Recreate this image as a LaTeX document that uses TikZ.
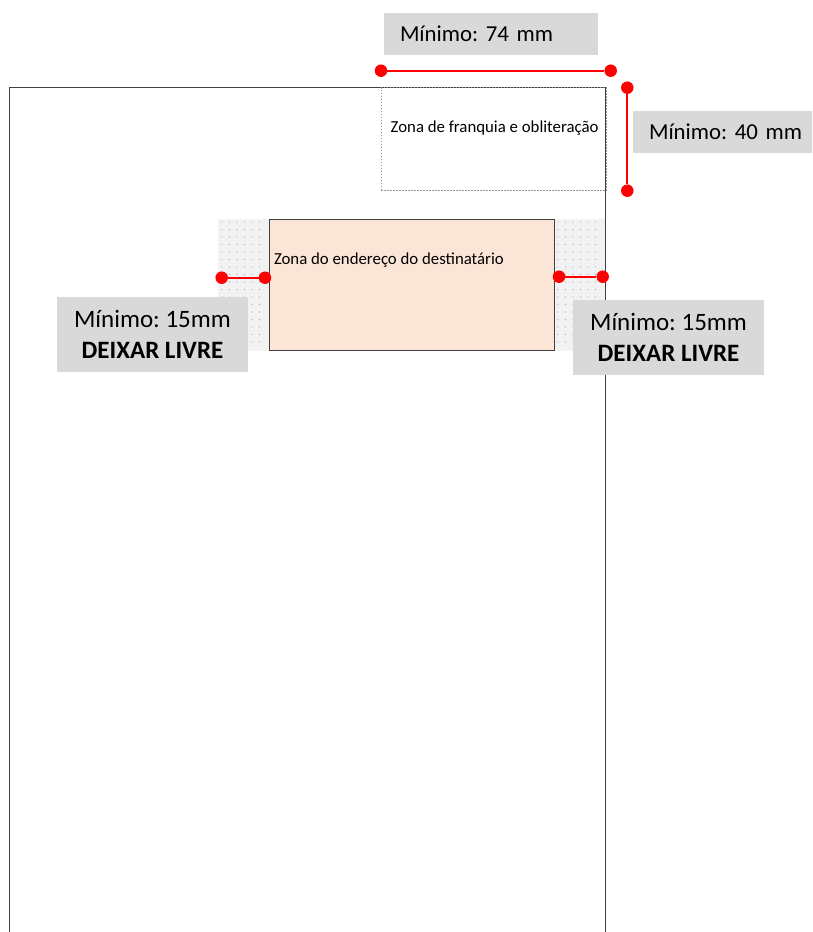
\documentclass[tikz,border=0pt]{standalone}
\usepackage{fontspec}
\setmainfont{Carlito}
\usetikzlibrary{positioning}
\definecolor{dimred}{HTML}{FF0000}
\definecolor{labelgray}{HTML}{D9D9D9}
\definecolor{zonepeach}{HTML}{FBE5D6}
\definecolor{freegray}{HTML}{F2F2F2}
\definecolor{dotgray}{HTML}{A8A8A8}
\definecolor{edgegray}{HTML}{404040}
\tikzset{every node/.style={inner sep=0pt,outer sep=0pt}}
\frenchspacing

\begin{document}
\begin{tikzpicture}[x=1pt,y=-1pt,
            dimdot/.style={circle,fill=dimred,minimum size=12.5pt},
            dimline/.style={draw=dimred,line width=2pt},
            labelbox/.style={rectangle,fill=labelgray,anchor=north west,align=left,inner xsep=16pt,
                minimum height=42pt,font=\fontsize{22.8}{27}\selectfont},
            freebox/.style={rectangle,fill=labelgray,anchor=north west,align=center,
                minimum width=191pt,minimum height=75pt,font=\fontsize{25}{31}\selectfont},
            zonetext/.style={anchor=west,font=\fontsize{16.8}{20}\selectfont}
            ]
            \clip (0,0) rectangle (812,932);
            % envelope
            \node[draw=edgegray,line width=1.5pt,anchor=north west,minimum width=596pt,minimum height=880pt] (env) at (9.5,87.5) {};
            % free margins
            \fill[freegray] (218.3,218.5) rectangle (269.3,350.7);
            \fill[freegray] (554.3,218.5) rectangle (605,350.7);
            \foreach \x in {222,229.5,...,266}
                \foreach \y in {222,229.5,...,348}
                    \fill[dotgray] (\x,\y) circle (0.65pt);
            \foreach \x in {558,565.5,...,602}
                \foreach \y in {222,229.5,...,348}
                    \fill[dotgray] (\x,\y) circle (0.65pt);
            % zones
            \node[draw=edgegray,line width=1.2pt,fill=zonepeach,anchor=north west,minimum width=285pt,minimum height=131.5pt] (addr) at (269.3,219.3) {};
            \node[zonetext] (addrtxt) at (274,260) {Zona do endereço do destinatário};
            \node[draw=gray!80,line width=0.7pt,dash pattern=on 1.5pt off 1.5pt,anchor=north west,minimum width=225pt,minimum height=103pt] (franq) at (381,87.5) {};
            \node[zonetext] (franqtxt) at (390.7,128.3) {Zona de franquia e obliteração};
            % labels
            \node[labelbox,text width=182pt] (min74) at (384,13) {Mínimo: 74 mm};
            \node[labelbox,text width=161pt] (min40) at (633,111) {Mínimo: 40 mm};
            \node[freebox] (freeleft) at (57,296.7) {Mínimo: 15mm\\\textbf{DEIXAR LIVRE}};
            \node[freebox] (freeright) at (573,299.5) {Mínimo: 15mm\\\textbf{DEIXAR LIVRE}};
            % dimensions
            \node[dimdot] (w1) at (381,70.7) {};
            \node[dimdot] (w2) at (610.7,70.7) {};
            \node[dimdot] (h1) at (627.3,87.7) {};
            \node[dimdot] (h2) at (627.3,190.7) {};
            \node[dimdot] (l1) at (221.7,277.7) {};
            \node[dimdot] (l2) at (265,277.7) {};
            \node[dimdot] (r1) at (559,276.7) {};
            \node[dimdot] (r2) at (602.7,276.7) {};
            \draw[dimline] (w1) -- (w2);
            \draw[dimline] (h1) -- (h2);
            \draw[dimline] (l1) -- (l2);
            \draw[dimline] (r1) -- (r2);
        \end{tikzpicture}
\end{document}
